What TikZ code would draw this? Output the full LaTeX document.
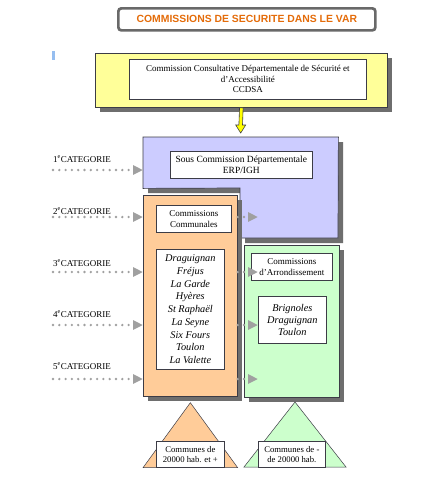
\documentclass[tikz,border=0pt]{standalone}
\usepackage{fontspec}
\setmainfont{Liberation Serif}
\newfontfamily\arialfont{Liberation Sans}
\usetikzlibrary{arrows.meta,shadows,calc}
\definecolor{titleor}{RGB}{228,108,10}
\definecolor{titlegray}{RGB}{105,105,105}
\definecolor{yelfill}{RGB}{255,255,153}
\definecolor{bluefill}{RGB}{204,204,255}
\definecolor{orfill}{RGB}{255,204,153}
\definecolor{grfill}{RGB}{204,255,204}
\definecolor{shadowc}{RGB}{110,110,110}
\definecolor{edgec}{RGB}{60,60,70}
\definecolor{dotc}{RGB}{160,160,160}
\definecolor{arrowyel}{RGB}{255,255,0}
\definecolor{marker}{RGB}{150,190,240}
\tikzset{
  panel/.style={draw=edgec, line width=0.7pt, anchor=north west, inner sep=0pt,
    drop shadow={shadow xshift=5pt, shadow yshift=-5pt, opacity=1, fill=shadowc}},
  whitebox/.style={draw=edgec, line width=0.7pt, fill=white, anchor=north west, inner sep=0pt,
    align=center, font=\fontsize{9}{10.5}\selectfont},
  dotarrow/.style={draw=dotc, line width=2.6pt, line cap=round, dash pattern=on 0pt off 6.3pt,
    -{Triangle[length=10pt,width=9pt,fill=dotc]}},
  catlabel/.style={anchor=west, inner sep=0pt, font=\fontsize{9}{10}\selectfont},
}
\begin{document}
\begin{tikzpicture}[x=1pt,y=-1pt]
\useasboundingbox[fill=white] (0,0) rectangle (445,480);
% small marker
\fill[marker] (51.5,51) rectangle (55,60);
% title
\node[draw=titlegray, line width=2.7pt, rounded corners=3pt, fill=white, anchor=north west,
  minimum width=257pt, minimum height=22pt, inner sep=0pt,
  font=\arialfont\bfseries\fontsize{10.4}{12}\selectfont, text=titleor] (title) at (117,7)
  {COMMISSIONS DE SECURITE DANS LE VAR};
% yellow
\node[panel, fill=yelfill, minimum width=292pt, minimum height=54pt] (yellow) at (95,53) {};
\node[whitebox, minimum width=237pt, minimum height=40pt] (ccdsa) at (129,59)
  {Commission Consultative Départementale de Sécurité et\\ d'Accessibilité\\ CCDSA};
% blue L-shape
\node[anchor=north west, inner sep=0pt, minimum width=195pt, minimum height=51pt] (blue) at (143,137) {};
\fill[shadowc] (148,142) -- (343,142) -- (343,243) -- (245,243) -- (245,193) -- (148,193) -- cycle;
\draw[edgec, line width=0.7pt, fill=bluefill] (blue.north west) -- (blue.north east) -- (338,238) -- (240,238) -- (240,188) -- (blue.south west) -- cycle;
\node[whitebox, minimum width=142pt, minimum height=27pt, font=\fontsize{9.5}{11}\selectfont] (sous) at (170,151)
  {Sous Commission Départementale\\ ERP/IGH};
% yellow arrow
\coordinate (ya) at (yellow.south);
\coordinate (yb) at ($(blue.north)+(0,-4)$);
\draw[edgec, line width=0.6pt, fill=arrowyel]
  ($(ya)+(-1.8,0)$) -- ($(ya)+(1.8,0)$) -- ($(yb)+(1.8,-8)$) -- ($(yb)+(5,-8)$) -- (yb)
  -- ($(yb)+(-5,-8)$) -- ($(yb)+(-1.8,-8)$) -- cycle;
% orange
\node[panel, fill=orfill, minimum width=94pt, minimum height=201pt] (orange) at (143,195) {};
\node[whitebox] at (156,205) [minimum width=75pt, minimum height=27pt] (commu) {Commissions\\ Communales};
\node[whitebox, minimum width=68pt, minimum height=120pt, font=\itshape\fontsize{10.3}{12.7}\selectfont] (cities) at (156,249)
  {Draguignan\\ Fréjus\\ La Garde\\ Hyères\\ St Raphaël\\ La Seyne\\ Six Fours\\ Toulon\\ La Valette};
% green
\node[panel, fill=grfill, minimum width=95pt, minimum height=152pt] (green) at (244,245) {};
\node[whitebox, minimum width=81pt, minimum height=27pt] (arrond) at (251,253) {Commissions\\ d'Arrondissement};
\node[whitebox, minimum width=68pt, minimum height=47pt, font=\itshape\fontsize{10.3}{12}\selectfont] (brig) at (258,296)
  {Brignoles\\ Draguignan\\ Toulon};
% triangles and labels
\node[whitebox, minimum width=68pt, minimum height=26pt, font=\fontsize{8.5}{10}\selectfont] (lab1) at (156,441) {};
\node[whitebox, minimum width=67pt, minimum height=26pt, font=\fontsize{8.5}{10}\selectfont] (lab2) at (258,441) {};
\draw[edgec, line width=0.5pt, fill=orfill] (orange.south west |- lab1.south) -- (lab1.south -| orange.south east) -- ($(orange.south)+(0,6)$) -- cycle;
\draw[edgec, line width=0.5pt, fill=grfill] (244,467) -- (346,467) -- (295,402) -- cycle;
\node[whitebox, minimum width=68pt, minimum height=26pt, font=\fontsize{8.7}{10}\selectfont] at (156,441) {Communes de\\ 20000 hab. et +};
\node[whitebox, minimum width=67pt, minimum height=26pt, font=\fontsize{8.7}{10}\selectfont] at (258,441) {Communes de -\\ de 20000 hab.};
% category labels and arrows
\node[catlabel] (c1) at (53,159) {1\textsuperscript{e}CATEGORIE};
\node[catlabel] (c2) at (53,211) {2\textsuperscript{e}CATEGORIE};
\node[catlabel] (c3) at (53,263) {3\textsuperscript{e}CATEGORIE};
\node[catlabel] (c4) at (53,314) {4\textsuperscript{e}CATEGORIE};
\node[catlabel] (c5) at (53,366) {5\textsuperscript{e}CATEGORIE};
\coordinate (s1) at (53,170);
\coordinate (s2) at (53,217);
\coordinate (s3) at (53,272);
\coordinate (s4) at (53,325);
\coordinate (s5) at (53,379);
\draw[dotarrow] (s1) -- (blue.west |- s1);
\draw[dotarrow] (s2) -- (orange.west |- s2);
\draw[dotarrow] (s3) -- (orange.west |- s3);
\draw[dotarrow] (s4) -- (orange.west |- s4);
\draw[dotarrow] (s5) -- (orange.west |- s5);
% middle arrows
\coordinate (m1) at (258,217);
\coordinate (m2) at (258,272);
\coordinate (m3) at (258,325);
\coordinate (m4) at (258,379);
\draw[dotarrow] (orange.east |- m1) -- (m1);
\draw[dotarrow] (orange.east |- m2) -- (m2);
\draw[dotarrow] (orange.east |- m3) -- (m3);
\draw[dotarrow] (orange.east |- m4) -- (m4);
\end{tikzpicture}
\end{document}
